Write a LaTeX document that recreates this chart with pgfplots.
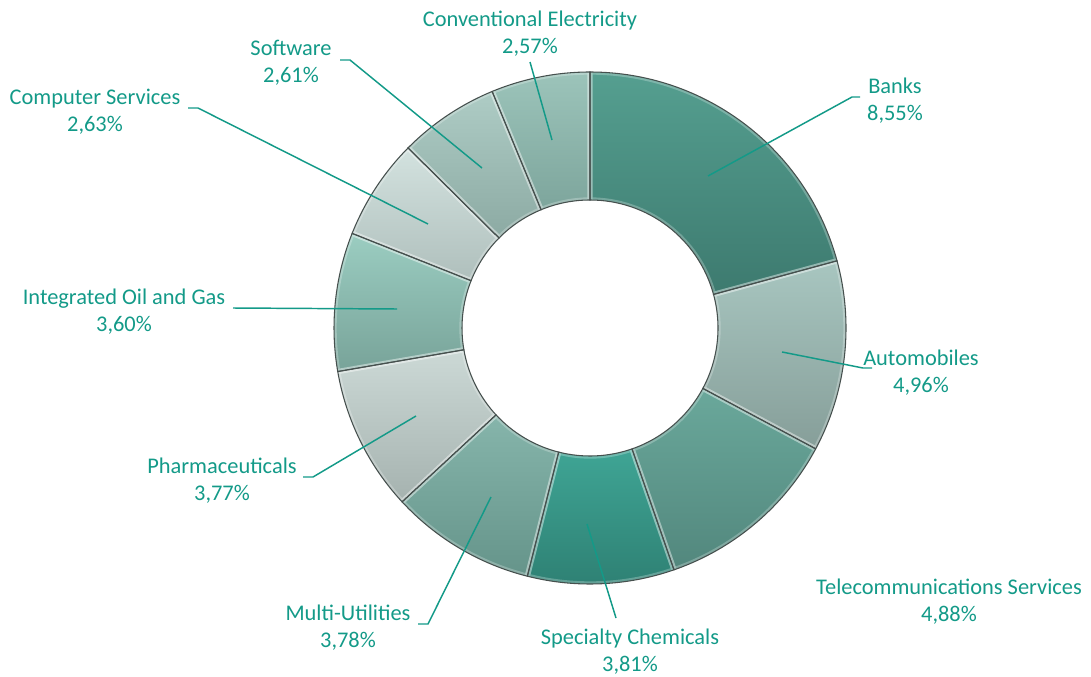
\documentclass[border=0pt]{standalone}
\usepackage{pgfplots}
\pgfplotsset{compat=1.18}
\usepackage{pgfplotstable}
\usepackage{fontspec}
\setmainfont{Carlito}

\definecolor{lbl}{HTML}{139A88}
\definecolor{edge}{HTML}{46504E}
% slice colours, top and bottom of each gradient
\definecolor{t0}{HTML}{559F90}\definecolor{b0}{HTML}{3D7A6F}
\definecolor{t1}{HTML}{A8C6C0}\definecolor{b1}{HTML}{869E99}
\definecolor{t2}{HTML}{6AA89B}\definecolor{b2}{HTML}{52877D}
\definecolor{t3}{HTML}{3FA595}\definecolor{b3}{HTML}{2E8073}
\definecolor{t4}{HTML}{86B5AB}\definecolor{b4}{HTML}{65948A}
\definecolor{t5}{HTML}{CCD9D6}\definecolor{b5}{HTML}{A5B2AF}
\definecolor{t6}{HTML}{9BCDC1}\definecolor{b6}{HTML}{78A399}
\definecolor{t7}{HTML}{D3E2DF}\definecolor{b7}{HTML}{AFBFBC}
\definecolor{t8}{HTML}{AECCC5}\definecolor{b8}{HTML}{8CAAA3}
\definecolor{t9}{HTML}{9CC4BA}\definecolor{b9}{HTML}{7DA59C}

\tikzset{
  lab/.style={text=lbl, align=center, inner sep=0pt,
              font=\fontsize{16.8}{20.25}\selectfont},
  leader/.style={lbl, line width=1.1pt},
}

% share of each sector, label centre (axis units = pixels)
\pgfplotstableread[col sep=comma]{
name,value,lx,ly
Banks,8.55,895,575
Automobiles,4.96,921,303
Telecommunications Services,4.88,949,74
Specialty Chemicals,3.81,630,24
Multi-Utilities,3.78,348,48
Pharmaceuticals,3.77,222,195
Integrated Oil and Gas,3.60,124,364
Computer Services,2.63,95,564
Software,2.61,291,613
Conventional Electricity,2.57,530,642
}\slices

\def\cx{590}\def\cy{348}\def\Rout{256}\def\Rin{128}
\pgfkeys{/pgf/number format/.cd,fixed,fixed zerofill,precision=2,use comma,assume math mode=true}

\pgfplotstablegetrowsof{\slices}
\pgfmathtruncatemacro\lastrow{\pgfplotsretval-1}
\gdef\total{0}
\foreach \i in {0,...,\lastrow}{%
  \pgfplotstablegetelem{\i}{value}\of\slices
  \pgfmathsetmacro\newtotal{\total+\pgfplotsretval}%
  \global\let\total\newtotal
}
\gdef\cum{0}
\foreach \i in {0,...,\lastrow}{%
  \pgfplotstablegetelem{\i}{value}\of\slices
  \let\val\pgfplotsretval
  \pgfmathprintnumberto{\val}{\vtxt}%
  \expandafter\global\expandafter\let\csname vl\i\endcsname\vtxt
  \pgfmathsetmacro\angA{90-360*\cum/\total}%
  \pgfmathsetmacro\newcum{\cum+\val}%
  \pgfmathsetmacro\angB{90-360*\newcum/\total}%
  \global\let\cum\newcum
  \pgfmathsetmacro\ox{\cx+\Rout*cos(\angA)}%
  \pgfmathsetmacro\oy{\cy+\Rout*sin(\angA)}%
  \pgfmathsetmacro\ix{\cx+\Rin*cos(\angB)}%
  \pgfmathsetmacro\iy{\cy+\Rin*sin(\angB)}%
  \expandafter\xdef\csname aS\i\endcsname{\angA}%
  \expandafter\xdef\csname aE\i\endcsname{\angB}%
  \expandafter\xdef\csname osx\i\endcsname{\ox}%
  \expandafter\xdef\csname osy\i\endcsname{\oy}%
  \expandafter\xdef\csname iex\i\endcsname{\ix}%
  \expandafter\xdef\csname iey\i\endcsname{\iy}%
  \pgfplotstablegetelem{\i}{name}\of\slices
  \expandafter\global\expandafter\let\csname nm\i\endcsname\pgfplotsretval
  \pgfplotstablegetelem{\i}{lx}\of\slices
  \expandafter\xdef\csname lx\i\endcsname{\pgfplotsretval}%
  \pgfplotstablegetelem{\i}{ly}\of\slices
  \expandafter\xdef\csname ly\i\endcsname{\pgfplotsretval}%
}

% ring sector #1 as a path, with drawing options #2
\newcommand\sector[2]{%
  \edef\temp{\noexpand\path[#2]
    (axis cs:\csname osx#1\endcsname,\csname osy#1\endcsname)
    arc[start angle=\csname aS#1\endcsname, end angle=\csname aE#1\endcsname, radius=192pt]
    -- (axis cs:\csname iex#1\endcsname,\csname iey#1\endcsname)
    arc[start angle=\csname aE#1\endcsname, end angle=\csname aS#1\endcsname, radius=96pt]
    -- cycle;}%
  \temp
}

\begin{document}
\begin{tikzpicture}
\begin{axis}[
    width=818.25pt, height=507pt, scale only axis,
    xmin=0, xmax=1091, ymin=0, ymax=676,
    hide axis, clip=false,
]
\path (rel axis cs:0,0) rectangle (rel axis cs:1,1);

\pgfplotsinvokeforeach{0,...,9}{\sector{#1}{top color=t#1, bottom color=b#1}}
\pgfplotsinvokeforeach{0,...,9}{\sector{#1}{draw=white, draw opacity=0.25, line width=4pt}}
\pgfplotsinvokeforeach{0,...,9}{\sector{#1}{draw=edge, line width=0.8pt}}

% leader lines
\addplot[leader, no markers] coordinates {(708,500) (852,579) (860,579)};
\addplot[leader, no markers] coordinates {(782,324) (863,308) (872,308)};
\addplot[leader, no markers] coordinates {(587,152) (616,58)};
\addplot[leader, no markers] coordinates {(491,179) (428,52) (418,52)};
\addplot[leader, no markers] coordinates {(416,260) (313,199) (303,199)};
\addplot[leader, no markers] coordinates {(397,367) (233,368)};
\addplot[leader, no markers] coordinates {(428,452) (198,568) (188,568)};
\addplot[leader, no markers] coordinates {(482,508) (350,616) (340,616)};
\addplot[leader, no markers] coordinates {(552,536) (530,614)};

\pgfplotsinvokeforeach{0,...,9}{%
  \edef\temp{\noexpand\node[lab] at (axis cs:\csname lx#1\endcsname,\csname ly#1\endcsname)
    {\csname nm#1\endcsname\noexpand\\\csname vl#1\endcsname\noexpand\%};}%
  \temp
}
\end{axis}
\end{tikzpicture}
\end{document}
